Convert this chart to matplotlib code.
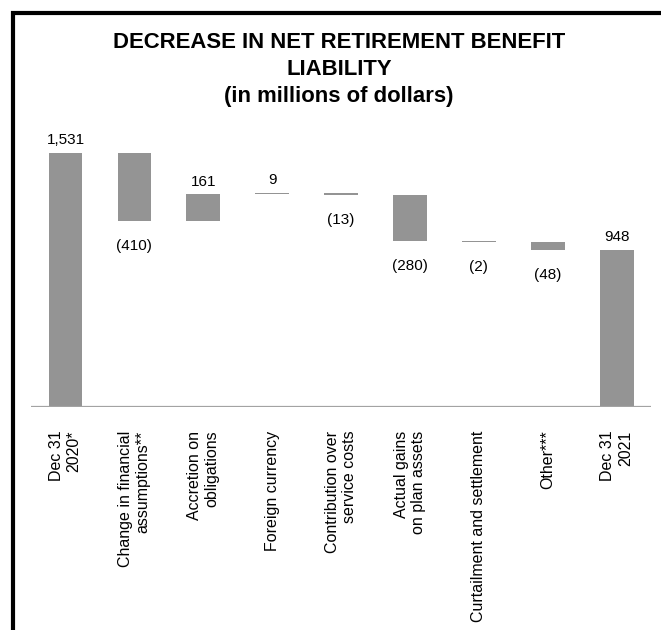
import numpy as np
import matplotlib
matplotlib.use("Agg")
import matplotlib.pyplot as plt
from matplotlib.lines import Line2D

plt.rcParams['font.family'] = ['Liberation Sans', 'DejaVu Sans']

# -----------------------------
# Data (millions of dollars)
# -----------------------------
categories = [
    "Dec 31\n2020*",
    "Change in financial\nassumptions**",
    "Accretion on\nobligations",
    "Foreign currency",
    "Contribution over\nservice costs",
    "Actual gains\non plan assets",
    "Curtailment and settlement",
    "Other***",
    "Dec 31\n2021",
]
opening = 1531
changes = [-410, 161, 9, -13, -280, -2, -48]
closing = 948

# -----------------------------
# Waterfall geometry
# -----------------------------
running = opening + np.cumsum([0] + changes)
bottoms = [0]
heights = [opening]
values = [opening]
for i, c in enumerate(changes):
    start = running[i]
    end = running[i + 1]
    bottoms.append(min(start, end))
    heights.append(abs(c))
    values.append(c)
bottoms.append(0)
heights.append(closing)
values.append(closing)

x = np.arange(len(categories))
bar_color = "#949494"

fig = plt.figure(figsize=(6.61, 6.30), dpi=100)
ax = fig.add_axes([0.047, 0.354, 0.938, 0.44])

ax.bar(x, heights, bottom=bottoms, width=0.49, color=bar_color)
ax.axhline(0, color="#a3a3a3", lw=1.6)

ax.set_xlim(-0.5, 8.5)
ax.set_ylim(0, 1670)

def fmt(v):
    return "({:,})".format(-v) if v < 0 else "{:,}".format(v)

for xi, b, h, v in zip(x, bottoms, heights, values):
    if v >= 0:
        ax.annotate(fmt(v), (xi, b + h), xytext=(0, 4), textcoords="offset points",
                    ha="center", va="bottom", fontsize=11)
    else:
        ax.annotate(fmt(v), (xi, b), xytext=(0, -13), textcoords="offset points",
                    ha="center", va="top", fontsize=11)

ax.set_xticks(x)
ax.set_xticklabels(categories, rotation=90, ha="center", va="top",
                   multialignment="right", fontsize=11.5)
ax.tick_params(axis="x", length=0, pad=17)
ax.set_yticks([])
for s in ax.spines.values():
    s.set_visible(False)

# Title
fig.text(0.513, 0.949, "DECREASE IN NET RETIREMENT BENEFIT\nLIABILITY\n(in millions of dollars)",
         ha="center", va="top", fontsize=15.9, fontweight="bold", linespacing=1.37)

# Black frame along the left and top edges
W, H = 661, 630
fig.add_artist(Line2D([13 / W, 13 / W], [0, 1 - 11 / H], color="black", lw=3,
                      transform=fig.transFigure, solid_capstyle="butt"))
fig.add_artist(Line2D([11 / W, 1], [1 - 12.5 / H, 1 - 12.5 / H], color="black", lw=3,
                      transform=fig.transFigure, solid_capstyle="butt"))

fig.savefig("out.png", dpi=100)
